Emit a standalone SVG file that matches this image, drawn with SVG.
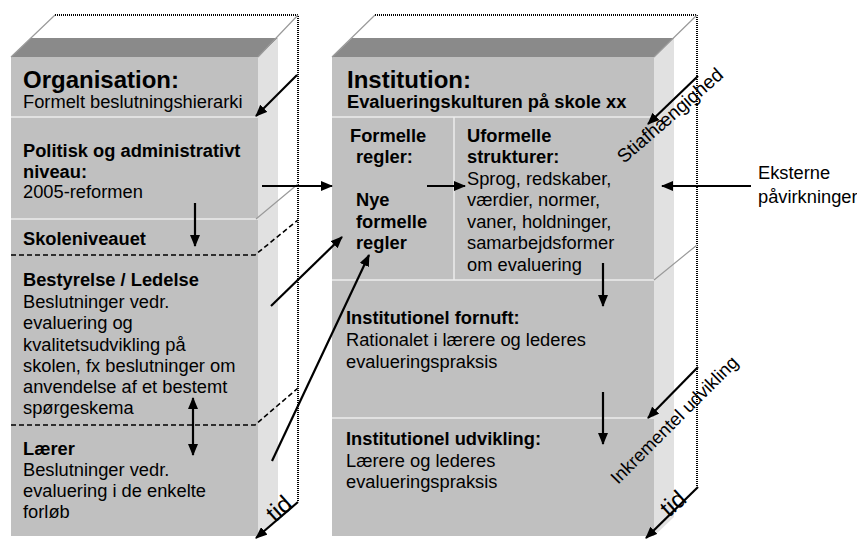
<svg xmlns="http://www.w3.org/2000/svg" width="857" height="541" viewBox="0 0 857 541">
  <defs>
    <marker id="ah" markerUnits="userSpaceOnUse" markerWidth="12" markerHeight="10" refX="11" refY="5" orient="auto-start-reverse">
      <path d="M0,0 L12,5 L0,10 z" fill="#000"/>
    </marker>
    <style>
      .face{fill:#c0c0c0}
      .top{fill:#8a8a8a}
      .side{fill:#e1e1e1}
      .dot{stroke:#000;stroke-width:2;stroke-dasharray:1 1;fill:none;shape-rendering:crispEdges}
      .edge{stroke:#9a9a9a;stroke-width:1.2;fill:none}
      .sep{stroke:#ececec;stroke-width:1.5}
      .dash{stroke:#000;stroke-width:1.6;stroke-dasharray:5 3;fill:none}
      .arr{stroke:#000;stroke-width:2.2;fill:none;marker-end:url(#ah)}
      .arr2{stroke:#000;stroke-width:2.2;fill:none;marker-end:url(#ah);marker-start:url(#ah)}
      text{font-family:"Liberation Sans",Arial,sans-serif;font-size:18.3px;fill:#000}
      .b{font-weight:bold}
      .t{font-size:24px;font-weight:bold}
      .tid{font-size:24px}
    </style>
  </defs>

  <rect width="857" height="541" fill="#fff"/>

  <!-- Left block: organisation -->
  <g id="organisation">
    <polygon class="top" points="11,57 258,57 278,38 31,38"/>
    <polygon class="side" points="258,57 278,38 278,517 258,536"/>
    <rect class="face" x="11" y="57" width="247" height="479"/>
    <line class="sep" x1="11" y1="117" x2="258" y2="117"/>
    <line class="sep" x1="11" y1="219" x2="258" y2="219"/>
    <path class="dash" d="M11,255 H255 L298,220"/>
    <path class="dash" d="M11,425 H255 L298,388"/>
    <path class="dot" d="M55,15 H298 V502"/>
    <path class="edge" d="M55,15 L11,57 M298,15 L258,57 M256,219 L298,184"/>
    <text x="23" y="88" class="t">Organisation:</text>
    <text x="23" y="108">Formelt beslutningshierarki</text>
    <text x="23" y="157" class="b">Politisk og administrativt</text>
    <text x="23" y="178" class="b">niveau:</text>
    <text x="23" y="198">2005-reformen</text>
    <text x="23" y="245" class="b">Skoleniveauet</text>
    <text x="23" y="286" class="b">Bestyrelse / Ledelse</text>
    <text x="23" y="308">Beslutninger vedr.</text>
    <text x="23" y="329">evaluering og</text>
    <text x="23" y="351">kvalitetsudvikling på</text>
    <text x="23" y="372">skolen, fx beslutninger om</text>
    <text x="23" y="393">anvendelse af et bestemt</text>
    <text x="23" y="414">spørgeskema</text>
    <text x="23" y="455" class="b">Lærer</text>
    <text x="23" y="476">Beslutninger vedr.</text>
    <text x="23" y="497">evaluering i de enkelte</text>
    <text x="23" y="518">forløb</text>
  </g>

  <!-- Right block: institution -->
  <g id="institution">
    <polygon class="top" points="332,57 654,57 674,38 352,38"/>
    <polygon class="side" points="654,57 674,38 674,517 654,536"/>
    <rect class="face" x="332" y="57" width="322" height="479"/>
    <line class="sep" x1="332" y1="117" x2="654" y2="117"/>
    <line class="sep" x1="454" y1="117" x2="454" y2="280"/>
    <line class="sep" x1="332" y1="280" x2="654" y2="280"/>
    <line class="sep" x1="332" y1="418" x2="654" y2="418"/>
    <path class="dot" d="M375,15 H697 V487"/>
    <path class="edge" d="M375,15 L332,57 M697,15 L654,57 M654,280 L697,245"/>
    <text x="347" y="88" class="t">Institution:</text>
    <text x="347" y="108" class="b">Evalueringskulturen på skole xx</text>
    <text x="350" y="142" class="b">Formelle</text>
    <text x="356" y="163" class="b">regler:</text>
    <text x="356" y="206" class="b">Nye</text>
    <text x="356" y="228" class="b">formelle</text>
    <text x="356" y="249" class="b">regler</text>
    <text x="467" y="142" class="b">Uformelle</text>
    <text x="467" y="163" class="b">strukturer:</text>
    <text x="467" y="185">Sprog, redskaber,</text>
    <text x="467" y="206">værdier, normer,</text>
    <text x="467" y="228">vaner, holdninger,</text>
    <text x="467" y="249">samarbejdsformer</text>
    <text x="467" y="271">om evaluering</text>
    <text x="346" y="324" class="b">Institutionel fornuft:</text>
    <text x="346" y="346">Rationalet i lærere og lederes</text>
    <text x="346" y="368">evalueringspraksis</text>
    <text x="346" y="445" class="b">Institutionel udvikling:</text>
    <text x="346" y="467">Lærere og lederes</text>
    <text x="346" y="488">evalueringspraksis</text>
  </g>

  <!-- Connectors -->
  <g id="connectors">
    <line class="arr" x1="297" y1="75" x2="256" y2="116"/>
    <line class="arr" x1="262" y1="186" x2="332" y2="186"/>
    <line class="arr" x1="195" y1="203" x2="195" y2="246"/>
    <line class="arr2" x1="193" y1="398" x2="193" y2="455"/>
    <line class="arr" x1="271" y1="306" x2="342" y2="237"/>
    <line class="arr" x1="272" y1="461" x2="369" y2="255"/>
    <line class="arr" x1="298" y1="502" x2="256" y2="538"/>
    <line class="arr" x1="427" y1="186" x2="465" y2="186"/>
    <line class="arr" x1="603" y1="263" x2="603" y2="306"/>
    <line class="arr" x1="603" y1="392" x2="603" y2="444"/>
    <line class="arr" x1="751" y1="186" x2="662" y2="186"/>
    <line class="arr" x1="698" y1="76" x2="648" y2="124"/>
    <line class="arr" x1="698" y1="367" x2="648" y2="418"/>
    <line class="arr" x1="698" y1="487" x2="646" y2="538"/>
  </g>

  <!-- Connector labels -->
  <g id="labels">
    <text x="624" y="164" style="font-size:19px" transform="rotate(-41 624 164)">Stiafhængighed</text>
    <text x="618" y="485" transform="rotate(-45 618 485)">Inkrementel udvikling</text>
    <text x="275" y="523" class="tid" transform="rotate(-42 275 523)">tid</text>
    <text x="669" y="518" class="tid" transform="rotate(-42 669 518)">tid</text>
    <text x="758" y="179">Eksterne</text>
    <text x="758" y="203">påvirkninger</text>
  </g>
</svg>
